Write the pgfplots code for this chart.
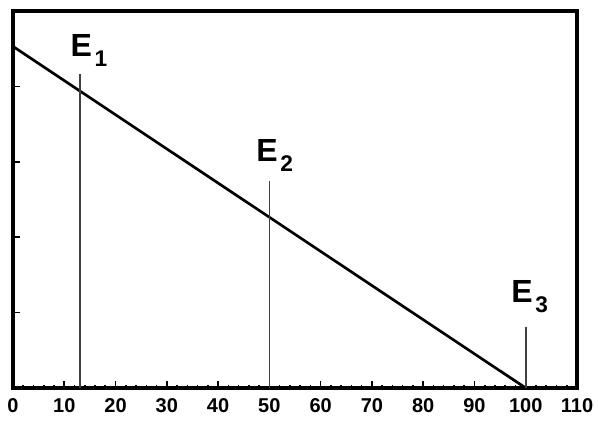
\documentclass[border=0pt]{standalone}
\usepackage{pgfplots}
\pgfplotsset{compat=1.18}
\usepackage{fontspec}
\setmainfont{Liberation Sans}
\newcommand{\Elab}[1]{E\kern2pt\raisebox{-7pt}{\fontsize{17}{17}\selectfont #1}}
\begin{document}
\begin{tikzpicture}
\begin{axis}[
  scale only axis, width=423pt, height=282.75pt,
  xmin=0, xmax=110, ymin=0, ymax=5,
  xtick={0,10,...,110}, minor x tick num=4,
  ytick={1,2,3,4}, yticklabels={},
  tick pos=left, tick align=inside,
  axis line style={line width=2.8pt},
  major tick length=5pt, minor tick length=2.5pt,
  every tick/.style={line width=1.2pt, black},
  /pgf/number format/assume math mode=true,
  xticklabel style={font=\fontsize{15}{16}\bfseries, yshift=-4pt},
  clip=false,
]
\addplot[line width=2pt] coordinates {(0,4.53) (100,0)};
\addplot[line width=1.3pt, black!75] coordinates {(13,0) (13,4.16)};
\addplot[line width=1.3pt, black!75] coordinates {(50,0) (50,2.75)};
\addplot[line width=1.3pt, black!75] coordinates {(100,0) (100,0.81)};
\node[anchor=base west, inner sep=0pt, font=\fontsize{24}{24}\selectfont\bfseries, xshift=-7pt] at (axis cs:13,4.39) {\Elab{1}};
\node[anchor=base west, inner sep=0pt, font=\fontsize{24}{24}\selectfont\bfseries, xshift=-10pt] at (axis cs:50,3.0) {\Elab{2}};
\node[anchor=base west, inner sep=0pt, font=\fontsize{24}{24}\selectfont\bfseries, xshift=-11pt] at (axis cs:100,1.13) {\Elab{3}};
\path (rel axis cs:0,0) ++(-9.75pt,-26.25pt);
\path (rel axis cs:1,1) ++(15.75pt,8.25pt);
\end{axis}
\end{tikzpicture}
\end{document}
